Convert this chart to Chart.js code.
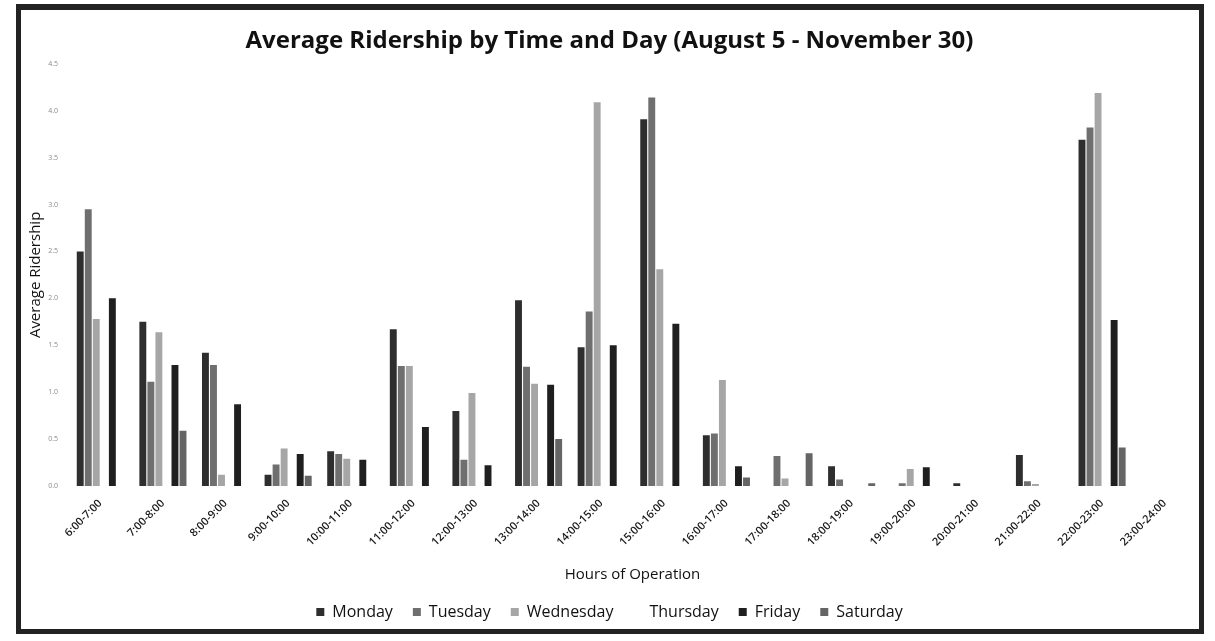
<!DOCTYPE html>
<html>
<head>
<meta charset="utf-8">
<script src="https://cdn.jsdelivr.net/npm/chart.js@4/dist/chart.umd.min.js"></script>
<style>
  html, body { margin: 0; padding: 0; background: #fff; }
  #frame {
    position: absolute; left: 16px; top: 4px; width: 1188px; height: 630px;
    box-sizing: border-box; border: 5px solid #222; border-top-width: 6px;
  }
  #chart { position: absolute; left: 0; top: 0; }
</style>
</head>
<body>
<div id="frame"></div>
<canvas id="chart" width="1215" height="641"></canvas>
<script>
// hours of operation
const hours = ['6:00-7:00', '7:00-8:00', '8:00-9:00', '9:00-10:00', '10:00-11:00', '11:00-12:00',
    '12:00-13:00', '13:00-14:00', '14:00-15:00', '15:00-16:00', '16:00-17:00', '17:00-18:00',
    '18:00-19:00', '19:00-20:00', '20:00-21:00', '21:00-22:00', '22:00-23:00', '23:00-24:00'];

// average ridership per day
const monday    = [2.50, 1.75, 1.42, 0.12, 0.37, 1.67, 0.80, 1.98, 1.48, 3.91, 0.54, 0, 0.21, 0, 0.03, 0.33, 3.69, 0];
const tuesday   = [2.95, 1.11, 1.29, 0.23, 0.34, 1.28, 0.28, 1.27, 1.86, 4.14, 0.56, 0.32, 0.07, 0.03, 0, 0.05, 3.82, 0];
const wednesday = [1.78, 1.64, 0.12, 0.40, 0.29, 1.28, 0.99, 1.09, 4.09, 2.31, 1.13, 0.08, 0, 0.18, 0, 0.02, 4.19, 0];
const thursday  = [0, 0, 0, 0, 0, 0, 0, 0, 0, 0, 0, 0, 0, 0, 0, 0, 0, 0]; // prints white, nothing visible
const friday    = [2.00, 1.29, 0.87, 0.34, 0.28, 0.63, 0.22, 1.08, 1.50, 1.73, 0.21, 0, 0, 0.20, 0, 0, 1.77, 0];
const saturday  = [0, 0.59, 0, 0.11, 0, 0, 0, 0.50, 0, 0, 0.09, 0.35, 0.03, 0, 0, 0, 0.41, 0];

const yTicks = [0, 0.5, 1, 1.5, 2, 2.5, 3, 3.5, 4, 4.5];

const font = "'Open Sans', 'DejaVu Sans', sans-serif";

function series(label, data, color) {
    return {
        label: label,
        data: data,
        backgroundColor: color,
        borderWidth: 0,
        categoryPercentage: 0.77,
        barPercentage: 0.86
    };
}

new Chart(document.getElementById('chart'), {
    type: 'bar',
    data: {
        labels: hours,
        datasets: [
            series('Monday', monday, '#2e2e2e'),
            series('Tuesday', tuesday, '#6f6f6f'),
            series('Wednesday', wednesday, '#a6a6a6'),
            series('Thursday', thursday, '#ffffff'),
            series('Friday', friday, '#1f1f1f'),
            series('Saturday', saturday, '#656565')
        ]
    },
    options: {
        responsive: false,
        animation: false,
        layout: { padding: { top: 10, left: 23, right: 19, bottom: 11 } },
        plugins: {
            title: {
                display: true,
                text: 'Average Ridership by Time and Day (August 5 - November 30)',
                color: '#111',
                font: { family: font, size: 24, weight: 'bold' },
                padding: { top: 17, bottom: 8 }
            },
            legend: {
                position: 'bottom',
                labels: {
                    color: '#111',
                    font: { family: font, size: 16 },
                    boxWidth: 8,
                    boxHeight: 8,
                    padding: 20
                }
            },
            tooltip: { enabled: false }
        },
        scales: {
            x: {
                grid: { display: false },
                border: { display: false },
                ticks: {
                    color: '#1a1a1a',
                    font: { family: font, size: 11, weight: '600' },
                    maxRotation: 45,
                    minRotation: 45,
                    autoSkip: false
                },
                title: {
                    display: true,
                    text: 'Hours of Operation',
                    color: '#111',
                    font: { family: font, size: 15 },
                    padding: { top: 4, bottom: 0 }
                },
                afterFit: s => { s.height = 98; }
            },
            y: {
                min: 0,
                max: 4.5,
                afterBuildTicks: s => { s.ticks = yTicks.map(v => ({ value: v })); },
                grid: { display: false },
                border: { display: false },
                ticks: {
                    color: '#8a8a8a',
                    font: { family: font, size: 7 },
                    padding: 3,
                    callback: v => v.toFixed(1)
                },
                title: {
                    display: true,
                    text: 'Average Ridership',
                    color: '#111',
                    font: { family: font, size: 15 },
                    padding: { top: 4, bottom: 0 }
                },
                afterFit: s => { s.width = 46; }
            }
        }
    }
});
</script>
</body>
</html>
